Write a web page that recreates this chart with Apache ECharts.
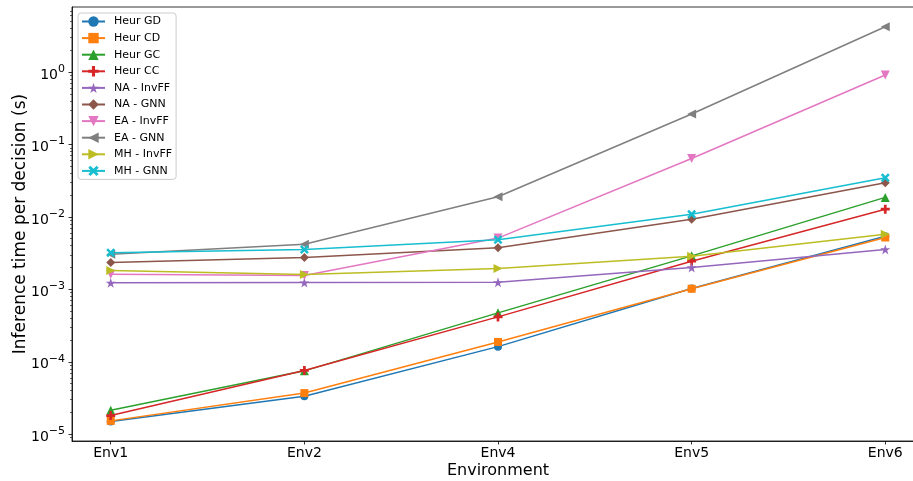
<!DOCTYPE html>
<html><head><meta charset="utf-8">
<script src="https://cdn.jsdelivr.net/npm/echarts@6/dist/echarts.min.js"></script>
<style>html,body{margin:0;padding:0;background:#fff}#c{width:913px;height:481px}</style>
</head><body><div id="c"></div>
<script>
const categories = ['Env1', 'Env2', 'Env4', 'Env5', 'Env6'];
const seriesNames = ['Heur GD', 'Heur CD', 'Heur GC', 'Heur CC', 'NA - InvFF', 'NA - GNN', 'EA - InvFF', 'EA - GNN', 'MH - InvFF', 'MH - GNN'];
const heurGD  = [1.5e-5, 3.35e-5, 1.62e-4, 1.03e-3, 5.4e-3];
const heurCD  = [1.53e-5, 3.7e-5, 1.88e-4, 1.02e-3, 5.2e-3];
const heurGC  = [2.14e-5, 7.5e-5, 4.74e-4, 2.9e-3, 1.86e-2];
const heurCC  = [1.81e-5, 7.6e-5, 4.17e-4, 2.45e-3, 1.28e-2];
const naInvFF = [1.23e-3, 1.24e-3, 1.25e-3, 2.0e-3, 3.56e-3];
const naGNN   = [2.35e-3, 2.75e-3, 3.74e-3, 9.3e-3, 2.96e-2];
const eaInvFF = [1.62e-3, 1.55e-3, 5.1e-3, 6.4e-2, 0.91];
const eaGNN   = [3.06e-3, 4.2e-3, 1.9e-2, 0.263, 4.22];
const mhInvFF = [1.82e-3, 1.6e-3, 1.94e-3, 2.87e-3, 5.78e-3];
const mhGNN   = [3.2e-3, 3.55e-3, 4.85e-3, 1.09e-2, 3.47e-2];
const yMajorTicks = [1e-5, 1e-4, 1e-3, 1e-2, 1e-1, 1];
const yTickExponents = ['\u22125', '\u22124', '\u22123', '\u22122', '\u22121', '0'];

const allValues = [heurGD, heurCD, heurGC, heurCC, naInvFF, naGNN, eaInvFF, eaGNN, mhInvFF, mhGNN];
const colors = ['#1f77b4', '#ff7f0e', '#2ca02c', '#d62728', '#9467bd', '#8c564b', '#e377c2', '#7f7f7f', '#bcbd22', '#17becf'];
const symbols = [
  'circle',
  'rect',
  'path://M5,0L10,9L0,9Z',
  'path://M3.5,0H6.5V3.5H10V6.5H6.5V10H3.5V6.5H0V3.5H3.5Z',
  'path://M5,0L6.2,3.6L10,3.6L6.9,5.9L8.1,9.5L5,7.3L1.9,9.5L3.1,5.9L0,3.6L3.8,3.6Z',
  'path://M5,0L10,5L5,10L0,5Z',
  'path://M0,0L10,0L5,9Z',
  'path://M0,5L9,0L9,10Z',
  'path://M0,0L9,5L0,10Z',
  'path://M0,2L2,0L5,3L8,0L10,2L7,5L10,8L8,10L5,7L2,10L0,8L3,5Z'
];
const symbolSizes = [8, 8, 9, 9, 10, 9, 9, 9, 9, 9];

const yMinorTicks = [];
for (let e = -6; e <= 0; e++) for (let m = 2; m <= 9; m++) {
  const v = m * Math.pow(10, e);
  if (v > 8.07e-6 && v < 7.9) yMinorTicks.push(+v.toPrecision(3));
}

const font = 'DejaVu Sans';
const chart = echarts.init(document.getElementById('c'), null, { renderer: 'canvas' });
const series = allValues.map((vals, i) => ({
  name: seriesNames[i],
  type: 'line',
  data: vals.map((v, j) => [j, v]),
  symbol: symbols[i],
  symbolSize: symbolSizes[i],
  showAllSymbol: true,
  lineStyle: { color: colors[i], width: 1.5 },
  itemStyle: { color: colors[i], borderWidth: 0 },
  emphasis: { disabled: true },
  animation: false,
  z: 2 + i
}));

chart.setOption({
  animation: false,
  backgroundColor: '#fff',
  textStyle: { fontFamily: font },
  grid: { left: 72, top: 7, width: 852, height: 434, containLabel: false, outerBoundsMode: 'none',
    show: true, borderColor: '#000', borderWidth: 0.8, backgroundColor: 'transparent' },
  legend: {
    data: seriesNames,
    orient: 'vertical',
    left: 78, top: 13,
    itemWidth: 23, itemHeight: 13, itemGap: 3.6,
    padding: [2, 4, 2, 3],
    backgroundColor: '#fff',
    borderColor: '#cccccc', borderWidth: 1, borderRadius: 3,
    textStyle: { fontFamily: font, fontSize: 11, lineHeight: 13, color: '#000', padding: [0, 0, 0, 4] }
  },
  xAxis: {
    type: 'value', min: -0.2, max: 4.2,
    name: 'Environment', nameLocation: 'middle', nameGap: 22, nameMoveOverlap: false,
    nameTextStyle: { fontFamily: font, fontSize: 16, color: '#000' },
    axisLine: { show: true, onZero: false, lineStyle: { color: '#000', width: 0.8 } },
    axisTick: { show: true, length: 3.5, lineStyle: { color: '#000', width: 0.8 }, customValues: [0, 1, 2, 3, 4] },
    axisLabel: { fontFamily: font, fontSize: 14, color: '#000', margin: 5, customValues: [0, 1, 2, 3, 4], formatter: v => categories[Math.round(v)] },
    splitLine: { show: false }
  },
  yAxis: [{
    type: 'log', logBase: 10, min: 8.07e-6, max: 7.9,
    name: 'Inference time per decision (s)', nameLocation: 'middle', nameGap: 43, nameMoveOverlap: false,
    nameTextStyle: { fontFamily: font, fontSize: 17, color: '#000' },
    axisLine: { show: true, onZero: false, lineStyle: { color: '#000', width: 0.8 } },
    axisTick: { show: true, length: 3.5, lineStyle: { color: '#000', width: 0.8 }, customValues: yMajorTicks },
    axisLabel: { fontFamily: font, fontSize: 14, color: '#000', margin: 7, customValues: yMajorTicks,
      formatter: v => { const k = yMajorTicks.findIndex(t => Math.abs(Math.log10(t) - Math.log10(v)) < 1e-6); return k >= 0 ? '{b|10}{s|' + yTickExponents[k] + '}' : ''; },
      rich: {
        b: { fontFamily: font, fontSize: 14, color: '#000', padding: [6, 0, 0, 0] },
        s: { fontFamily: font, fontSize: 11, color: '#000', padding: [0, 0, 6, 0] }
      }
    },
    splitLine: { show: false }
  }, {
    type: 'log', logBase: 10, min: 8.07e-6, max: 7.9, position: 'left', offset: 0,
    axisLine: { show: false, onZero: false },
    axisTick: { show: true, length: 2, lineStyle: { color: '#000', width: 0.6 }, customValues: yMinorTicks },
    axisLabel: { show: false },
    splitLine: { show: false }
  }],
  series: series
});
</script></body></html>
